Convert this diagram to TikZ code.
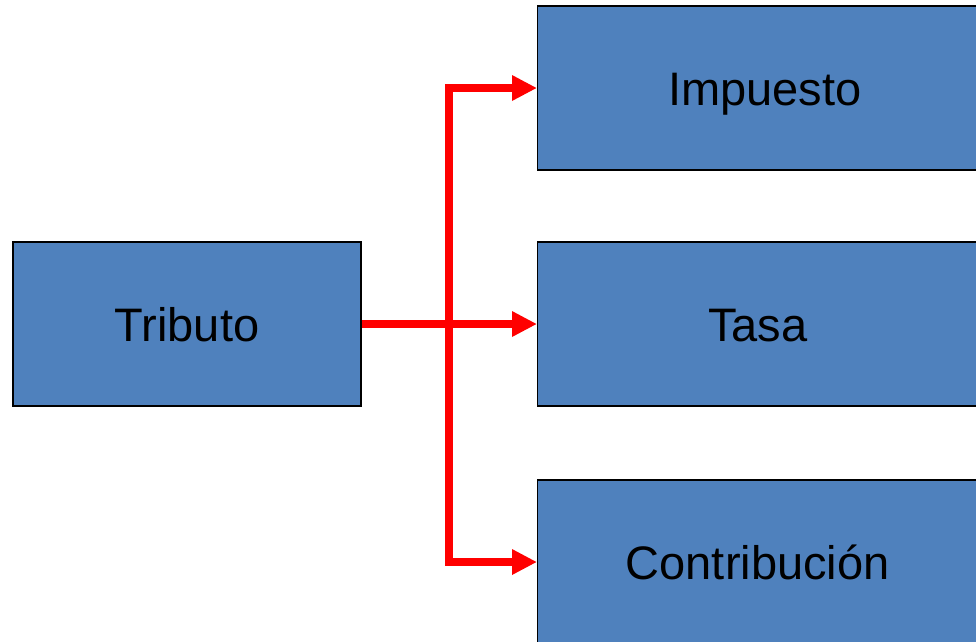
\documentclass[tikz,border=0pt]{standalone}
\usepackage{fontspec}
\setmainfont{Liberation Sans}
\usetikzlibrary{arrows.meta}
\definecolor{boxblue}{HTML}{4F81BD}
\definecolor{arrred}{HTML}{FF0000}
\tikzset{
  box/.style={draw=black, line width=1.4pt, fill=boxblue, rectangle, minimum height=164pt, inner sep=0pt, text height=34pt, text depth=0pt, font=\fontsize{47}{56}\selectfont},
  leftbox/.style={box, minimum width=348pt},
  rightbox/.style={box, minimum width=440pt, anchor=west},
  conn/.style={draw=arrred, line width=7.5pt, -{Triangle[length=25pt,width=24pt]}}
}
\begin{document}
\begin{tikzpicture}[x=1pt,y=-1pt]
\useasboundingbox (0,0) rectangle (976,641);
\fill[white] (0,0) rectangle (976,641);
\node[leftbox] (trib) at (187,324) {Tributo};
\node[rightbox] (imp) at (537,88) {\hspace{14pt}Impuesto};
\node[rightbox] (tasa) at (537,324) {Tasa};
\node[rightbox] (cont) at (537,562) {Contribución};
\coordinate (junc) at (449,324);
\draw[conn] (trib.east) -- (tasa.west);
\draw[conn] (junc) |- (imp.west);
\draw[conn] (junc) |- (cont.west);
\end{tikzpicture}
\end{document}
